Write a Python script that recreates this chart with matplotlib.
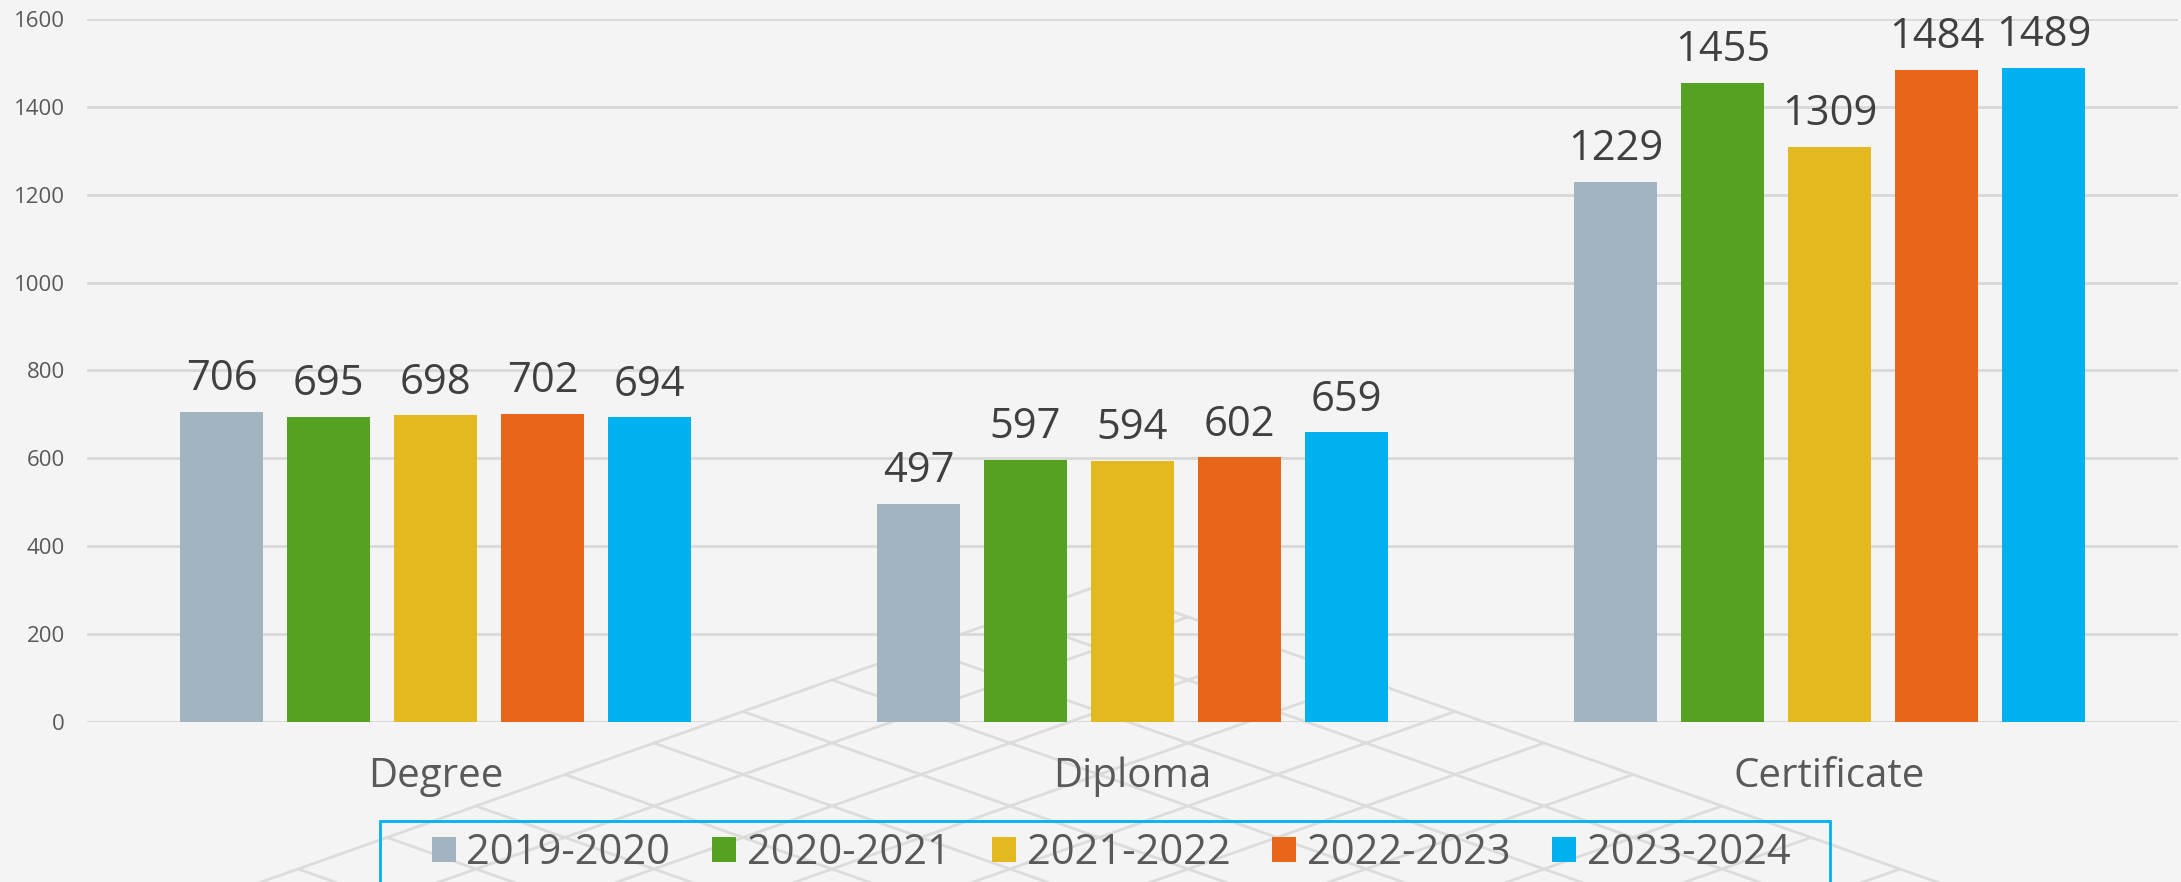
import numpy as np
import matplotlib
matplotlib.use('Agg')
import matplotlib.pyplot as plt
from matplotlib.patches import Rectangle

# data
categories = ['Degree', 'Diploma', 'Certificate']
years = ['2019-2020', '2020-2021', '2021-2022', '2022-2023', '2023-2024']
v_2019 = [706, 497, 1229]
v_2020 = [695, 597, 1455]
v_2021 = [698, 594, 1309]
v_2022 = [702, 602, 1484]
v_2023 = [694, 659, 1489]
series = [v_2019, v_2020, v_2021, v_2022, v_2023]
colors = ['#A1B4BF', '#55A122', '#E4B920', '#E8661A', '#00B1F0']

plt.rcParams['font.family'] = ['Open Sans', 'DejaVu Sans']

W, H = 2181, 882
bg = '#F4F4F4'
fig = plt.figure(figsize=(W / 100, H / 100), dpi=100, facecolor=bg)

# faint diamond "floor" pattern behind the chart (decoration only)
deco = fig.add_axes([0, 0, 1, 1], zorder=0)
deco.set_xlim(0, W)
deco.set_ylim(H, 0)
deco.axis('off')
apex_x, apex_y = 1099, 585.5   # top corner of the pattern, pixels
hx, hy = 89, 31.5              # half diagonals of one diamond cell
for k in range(0, 12):
    for sgn in (-1, 1):
        sx = apex_x + sgn * k * hx
        sy = apex_y + k * hy
        t = (H + 10 - sy) / hy
        deco.plot([sx, sx - sgn * t * hx], [sy, sy + t * hy], color='#DCDCDC',
                  lw=2.0, solid_capstyle='butt')

ax = fig.add_axes([0.0399, 0.1814, 0.9587, 0.7971], facecolor='none', zorder=1)

x = np.arange(len(categories))
pitch = 0.1535
width = 0.12
for i, (vals, col, lab) in enumerate(zip(series, colors, years)):
    pos = x + (i - 2) * pitch
    bars = ax.bar(pos, vals, width, color=col, label=lab, zorder=3)
    for b, v in zip(bars, vals):
        ax.annotate(str(v), (b.get_x() + b.get_width() / 2, v),
                    xytext=(0, 15.5), textcoords='offset points',
                    ha='center', va='baseline', fontsize=30, color='#404040')

ax.set_xlim(-0.5, 2.5)
ax.set_ylim(0, 1600)
ax.set_yticks(range(0, 1601, 200))
ax.yaxis.grid(True, color='#D9D9D9', linewidth=2, zorder=0)
ax.set_axisbelow(True)
ax.set_xticks(x)
ax.set_xticklabels(categories, fontsize=29, color='#595959')
ax.tick_params(axis='y', length=0, pad=16, labelsize=16, labelcolor='#595959')
ax.tick_params(axis='x', length=0, pad=25)
for s in ax.spines.values():
    s.set_visible(False)

leg = fig.legend(loc='center', bbox_to_anchor=(0.5094, 0.033), ncol=5,
                 fontsize=30, frameon=False,
                 handlelength=0.58, handleheight=0.55, handletextpad=0.25,
                 columnspacing=1.0, borderpad=0.0)
for t in leg.get_texts():
    t.set_color('#595959')

# legend box: wide side padding, runs off the bottom edge
fig.canvas.draw()
bb = leg.get_window_extent()
x0 = (bb.x0 - 52) / W
x1 = (bb.x1 + 40) / W
top = 1 - 821 / H
fig.add_artist(Rectangle((x0, -0.02), x1 - x0, top + 0.02, transform=fig.transFigure,
                         facecolor='none', edgecolor='#00B0F0', linewidth=2, zorder=2))

fig.savefig('out.png', dpi=100, facecolor=bg)
